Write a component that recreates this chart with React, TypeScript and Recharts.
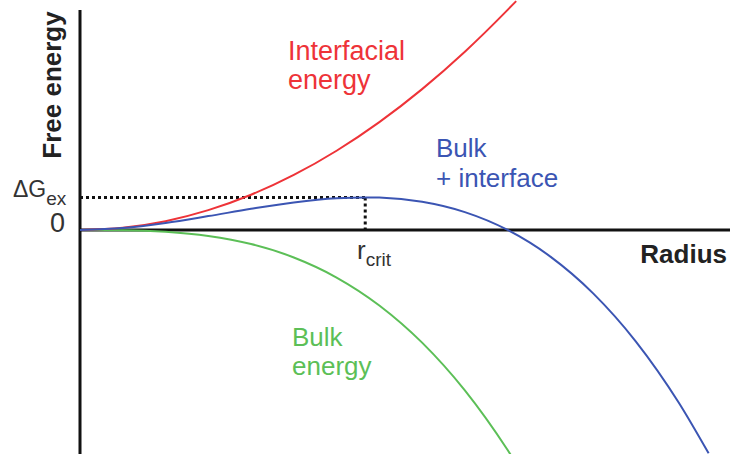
import { LineChart, Line, XAxis, YAxis, ReferenceLine } from 'recharts'

// radius in arbitrary units, energies in arbitrary units (0 = x axis)
const interfacialRadius = [0, 1, 2, 3, 4, 5, 6, 7, 8, 9, 10, 10.2]
const interfacialEnergy = [0, 1, 4, 9, 16, 25, 36, 49, 64, 81, 100, 104]

const bulkRadius = [0, 1, 2, 3, 4, 5, 6, 7, 8, 9, 10, 10.1]
const bulkEnergy = [0, -0.1, -0.8, -2.7, -6.4, -12.5, -21.6, -34.3, -51.2, -72.9, -100, -103]

const totalRadius = [0, 1, 2, 3, 4, 5, 6, 6.67, 7, 8, 9, 10, 11, 12, 13, 14, 14.7]
const totalEnergy = [0, 0.9, 3.2, 6.3, 9.6, 12.5, 14.4, 14.8, 14.7, 12.8, 8.1, 0, -12.1, -28.8, -50.7, -78.4, -101.5]

const rCrit = 6.67
const deltaGex = 14.8

const X_DOMAIN: [number, number] = [0, 15.2]
const Y_DOMAIN: [number, number] = [-101.8, 104.5]

const toPoints = (rs: number[], es: number[]) => rs.map((r, i) => ({ r, e: es[i] }))

const RED = '#ee3338'
const BLUE = '#3b55b3'
const GREEN = '#5cbf57'
const FONT = '"Liberation Sans", Arial, Helvetica, sans-serif'

export default function App() {
  const W = 730
  const H = 454
  return (
    <div style={{ position: 'absolute', left: 0, top: 0, width: W, height: H, background: '#fff' }}>
      <LineChart width={W} height={H} margin={{ top: 0, right: 0, bottom: 0, left: 80 }}>
        <XAxis type="number" dataKey="r" domain={X_DOMAIN} hide allowDataOverflow />
        <YAxis type="number" dataKey="e" domain={Y_DOMAIN} hide allowDataOverflow />
        <ReferenceLine
          segment={[{ x: 0, y: 100 }, { x: 0, y: Y_DOMAIN[0] }]}
          stroke="#111"
          strokeWidth={3}
          ifOverflow="visible"
        />
        <ReferenceLine y={0} stroke="#111" strokeWidth={3} ifOverflow="visible" />
        <ReferenceLine
          segment={[{ x: 0, y: deltaGex }, { x: rCrit, y: deltaGex }]}
          stroke="#111"
          strokeWidth={3}
          strokeDasharray="3 3"
        />
        <ReferenceLine
          segment={[{ x: rCrit, y: deltaGex }, { x: rCrit, y: 0 }]}
          stroke="#111"
          strokeWidth={3}
          strokeDasharray="3 3"
        />
        <Line
          data={toPoints(bulkRadius, bulkEnergy)}
          dataKey="e"
          type="monotone"
          stroke={GREEN}
          strokeWidth={2}
          dot={false}
          isAnimationActive={false}
        />
        <Line
          data={toPoints(interfacialRadius, interfacialEnergy)}
          dataKey="e"
          type="monotone"
          stroke={RED}
          strokeWidth={2}
          dot={false}
          isAnimationActive={false}
        />
        <Line
          data={toPoints(totalRadius, totalEnergy)}
          dataKey="e"
          type="monotone"
          stroke={BLUE}
          strokeWidth={2}
          dot={false}
          isAnimationActive={false}
        />
      </LineChart>
      <svg
        width={W}
        height={H}
        style={{ position: 'absolute', left: 0, top: 0, pointerEvents: 'none' }}
        fontFamily={FONT}
      >
        <text
          x={61}
          y={85}
          transform="rotate(-90 61 85)"
          textAnchor="middle"
          fontSize={26}
          fontWeight="bold"
          fill="#222"
        >
          Free energy
        </text>
        <text x={13} y={197} fontSize={23} fill="#333">
          ΔG
          <tspan fontSize={19} dy={8}>ex</tspan>
        </text>
        <text x={50} y={232} fontSize={27} fill="#333">0</text>
        <text x={357} y={259} fontSize={26} fill="#333">
          r
          <tspan fontSize={19} dy={7}>crit</tspan>
        </text>
        <text x={727} y={263} textAnchor="end" fontSize={26} fontWeight="bold" fill="#222">
          Radius
        </text>
        <text fontSize={27} fill={RED}>
          <tspan x={288} y={60}>Interfacial</tspan>
          <tspan x={288} y={89}>energy</tspan>
        </text>
        <text fontSize={26} fill={BLUE}>
          <tspan x={436} y={157}>Bulk</tspan>
          <tspan x={436} y={187}>+ interface</tspan>
        </text>
        <text fontSize={26} fill={GREEN}>
          <tspan x={292} y={346}>Bulk</tspan>
          <tspan x={292} y={375}>energy</tspan>
        </text>
      </svg>
    </div>
  )
}
